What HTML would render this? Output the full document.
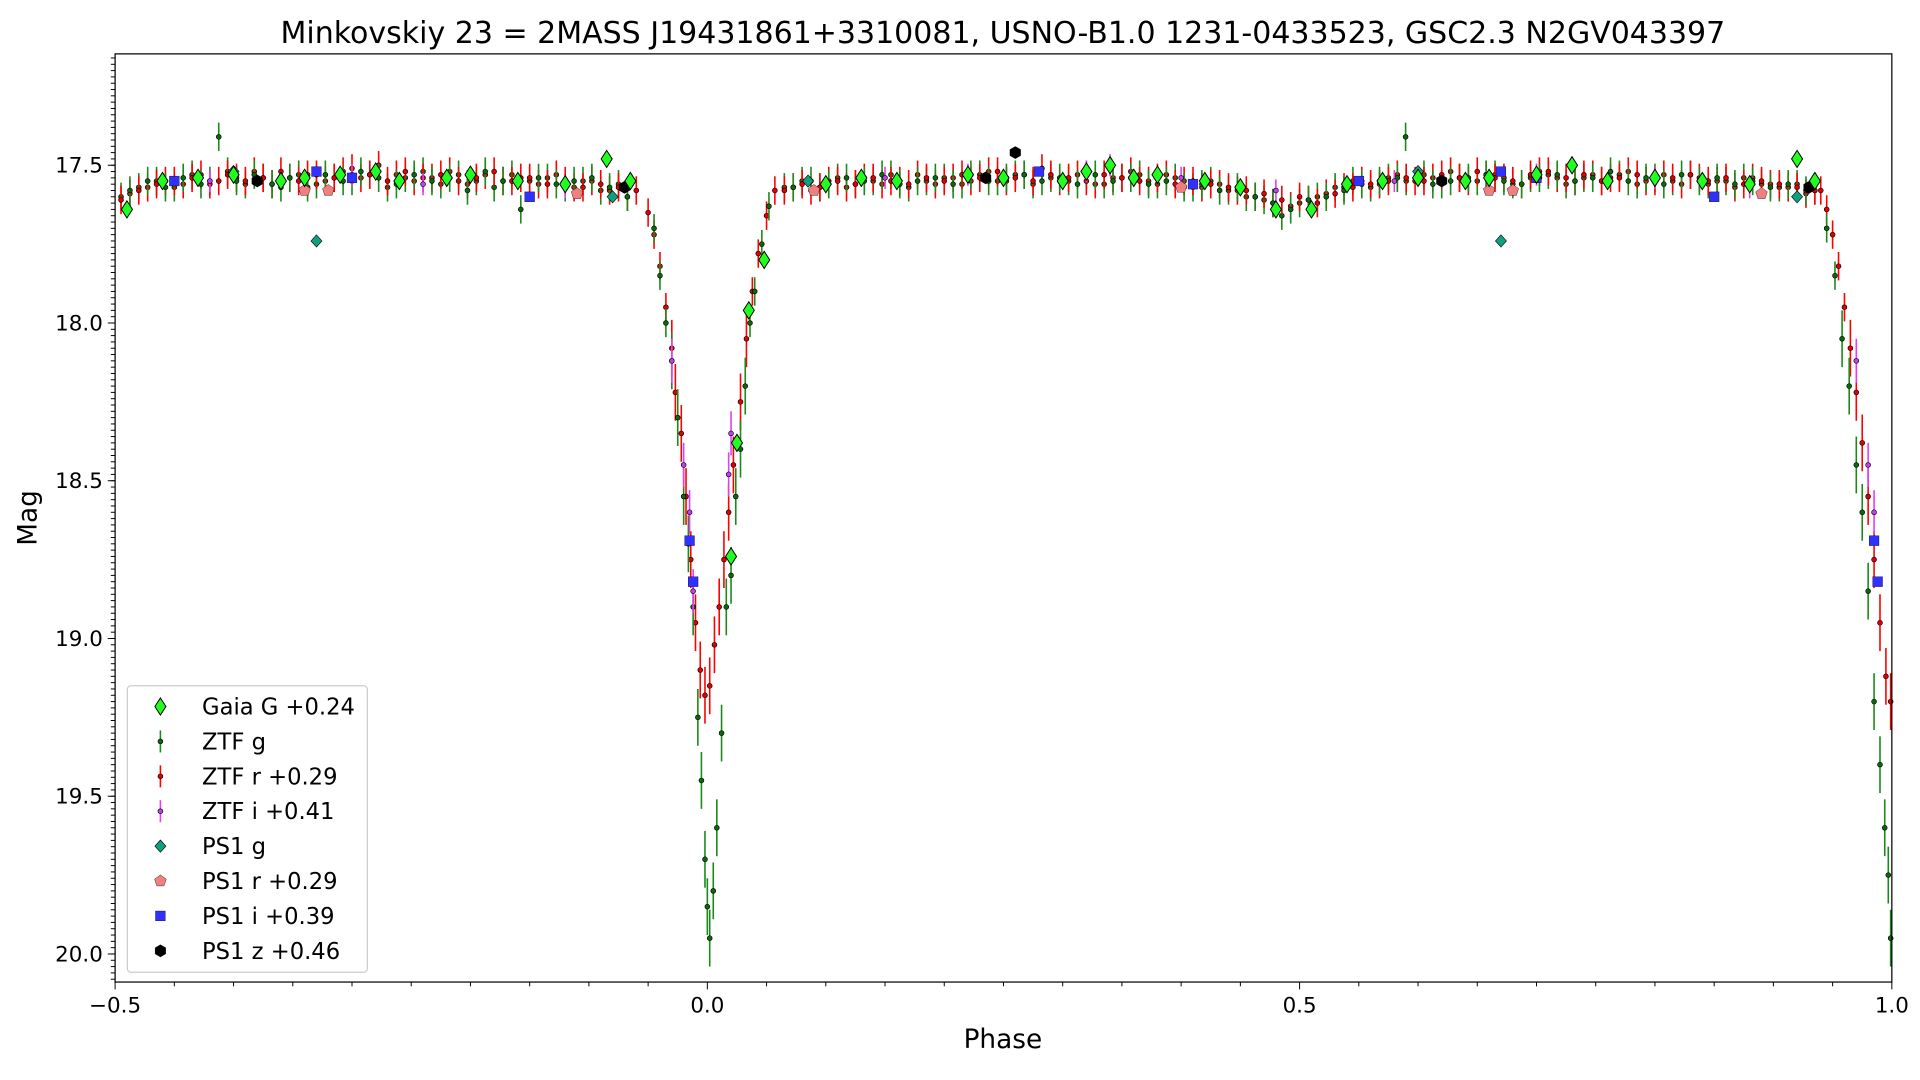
<!DOCTYPE html>
<html><head><meta charset="utf-8"><style>
html,body{margin:0;padding:0;background:#fff;}
svg{display:block;font-family:"DejaVu Sans","Liberation Sans",sans-serif;}
</style></head><body>
<svg id="chart" width="1920" height="1080" viewBox="0 0 1568 882" preserveAspectRatio="none" xmlns="http://www.w3.org/2000/svg">
<text x="819" y="35" font-size="24.5" text-anchor="middle">Minkovskiy 23 = 2MASS J19431861+3310081, USNO-B1.0 1231-0433523, GSC2.3 N2GV043397</text>
<g id="marks"></g>
<g id="axes"></g>
<text x="819" y="856" font-size="21.5" text-anchor="middle">Phase</text>
<text x="0" y="0" font-size="21.5" text-anchor="middle" transform="translate(30,423) rotate(-90)">Mag</text>
<g id="legend"></g>
</svg>
<script>
// ---- data ----
const xTicks=[-0.5,0.0,0.5,1.0];
const xTickLabels=["\u22120.5","0.0","0.5","1.0"];
const yTicks=[17.5,18.0,18.5,19.0,19.5,20.0];
const yTickLabels=["17.5","18.0","18.5","19.0","19.5","20.0"];

const rPhase=[-0.495,-0.48,-0.465,-0.45,-0.435,-0.42,-0.405,-0.39,-0.375,-0.36,-0.345,-0.33,-0.315,-0.3,-0.285,-0.27,-0.255,-0.24,-0.225,-0.21,-0.195,-0.18,-0.165,-0.15,-0.135,-0.12,-0.105,-0.09,-0.075,
-0.06,-0.05,-0.045,-0.04,-0.035,-0.03,-0.027,-0.022,-0.018,-0.014,-0.01,-0.006,-0.002,0.002,0.006,0.01,0.014,0.018,0.022,0.028,0.033,0.038,0.043,0.05,0.057,
0.065,0.08,0.095,0.11,0.125,0.14,0.155,0.17,0.185,0.2,0.215,0.23,0.245,0.26,0.275,0.29,0.305,0.32,0.335,0.35,0.365,0.38,0.395,0.41,0.425,0.44,0.455,0.47,0.485,0.5,0.515,0.53,0.545,0.56,0.575,0.59,0.605,0.62,0.635,0.65,0.665,0.68,0.695,0.71,0.725,0.74,0.755,0.77,0.785,0.8,0.815,0.83,0.845,0.86,0.875,0.89,0.905,0.92,0.935,
0.94,0.945,0.95,0.955,0.96,0.965,0.97,0.975,0.98,0.985,0.99,0.995,0.999];
const rMag=[17.61,17.58,17.56,17.55,17.54,17.56,17.53,17.55,17.54,17.52,17.55,17.53,17.54,17.51,17.53,17.55,17.52,17.54,17.53,17.55,17.54,17.52,17.55,17.54,17.56,17.55,17.57,17.56,17.57,
17.58,17.65,17.72,17.82,17.95,18.08,18.22,18.35,18.55,18.75,18.95,19.1,19.18,19.15,19.02,18.9,18.75,18.6,18.45,18.25,18.05,17.9,17.78,17.66,17.58,
17.58,17.56,17.57,17.55,17.56,17.54,17.55,17.56,17.54,17.55,17.53,17.54,17.52,17.54,17.55,17.53,17.54,17.55,17.53,17.54,17.55,17.54,17.56,17.55,17.56,17.57,17.58,17.59,17.61,17.6,17.62,17.59,17.57,17.56,17.55,17.54,17.55,17.53,17.54,17.52,17.54,17.55,17.53,17.52,17.54,17.53,17.55,17.54,17.53,17.55,17.54,17.53,17.55,17.54,17.56,17.55,17.56,17.57,17.58,
17.58,17.64,17.72,17.82,17.95,18.08,18.22,18.38,18.55,18.75,18.95,19.12,19.2];

const r2Phase=[-0.4875,-0.4725,-0.4575,-0.4425,-0.4275,-0.4125,-0.3975,-0.3825,-0.3675,-0.3525,-0.3375,-0.3225,-0.3075,-0.2925,-0.2775,-0.2625,-0.2475,-0.2325,-0.2175,-0.2025,-0.1875,-0.1725,-0.1575,-0.1425,-0.1275,-0.1125,-0.0975,-0.0825,-0.0675,
0.0725,0.0875,0.1025,0.1175,0.1325,0.1475,0.1625,0.1775,0.1925,0.2075,0.2225,0.2375,0.2525,0.2675,0.2825,0.2975,0.3125,0.3275,0.3425,0.3575,0.3725,0.3875,0.4025,0.4175,0.4325,0.4475,0.4625,0.4775,0.4925,0.5075,0.5225,0.5375,0.5525,0.5675,0.5825,0.5975,0.6125,0.6275,0.6425,0.6575,0.6725,0.6875,0.7025,0.7175,0.7325,0.7475,0.7625,0.7775,0.7925,0.8075,0.8225,0.8375,0.8525,0.8675,0.8825,0.8975,0.9125,0.9275];
const r2Mag=[17.59,17.57,17.55,17.56,17.53,17.55,17.54,17.52,17.56,17.54,17.53,17.55,17.52,17.54,17.5,17.53,17.55,17.54,17.52,17.56,17.53,17.55,17.54,17.56,17.53,17.57,17.55,17.58,17.6,
17.57,17.58,17.55,17.57,17.54,17.56,17.55,17.53,17.56,17.54,17.55,17.52,17.55,17.53,17.51,17.55,17.53,17.56,17.54,17.52,17.55,17.53,17.55,17.57,17.56,17.58,17.6,17.62,17.63,17.61,17.59,17.57,17.55,17.56,17.53,17.55,17.54,17.52,17.55,17.53,17.54,17.56,17.52,17.54,17.55,17.53,17.54,17.52,17.55,17.53,17.56,17.54,17.55,17.57,17.54,17.56,17.57,17.59];

const gPhase=[-0.4875,-0.4725,-0.4575,-0.4425,-0.4275,-0.4125,-0.3975,-0.3825,-0.3675,-0.3525,-0.3375,-0.3225,-0.3075,-0.2925,-0.2775,-0.2625,-0.2475,-0.2325,-0.2175,-0.2025,-0.1875,-0.1725,-0.1575,-0.1425,-0.1275,-0.1125,-0.0975,-0.0825,-0.0675,
-0.045,-0.04,-0.035,-0.03,-0.025,-0.02,-0.016,-0.012,-0.008,-0.005,-0.002,0.0,0.002,0.005,0.008,0.012,0.016,0.02,0.024,0.028,0.032,0.036,0.04,0.046,0.052,
0.0725,0.0875,0.1025,0.1175,0.1325,0.1475,0.1625,0.1775,0.1925,0.2075,0.2225,0.2375,0.2525,0.2675,0.2825,0.2975,0.3125,0.3275,0.3425,0.3575,0.3725,0.3875,0.4025,0.4175,0.4325,0.4475,0.4625,0.4775,0.4925,0.5075,0.5225,0.5375,0.5525,0.5675,0.5825,0.5895,0.6125,0.6275,0.6425,0.6575,0.6725,0.6875,0.7025,0.7175,0.7325,0.7475,0.7625,0.7775,0.7925,0.8075,0.8225,0.8375,0.8525,0.8675,0.8825,0.8975,0.9125,0.9275,
0.945,0.952,0.958,0.964,0.97,0.975,0.98,0.985,0.99,0.994,0.997,0.999];
const gMag=[17.58,17.55,17.57,17.54,17.56,17.41,17.55,17.53,17.56,17.54,17.57,17.53,17.55,17.52,17.54,17.56,17.53,17.55,17.54,17.58,17.52,17.55,17.64,17.54,17.56,17.55,17.54,17.57,17.6,
17.7,17.85,18.0,18.12,18.3,18.55,18.7,18.9,19.25,19.45,19.7,19.85,19.95,19.8,19.6,19.3,18.9,18.8,18.55,18.4,18.2,18.0,17.9,17.75,17.63,
17.57,17.55,17.56,17.54,17.55,17.53,17.56,17.55,17.54,17.56,17.53,17.55,17.54,17.53,17.55,17.54,17.56,17.53,17.55,17.54,17.56,17.55,17.57,17.56,17.58,17.57,17.6,17.62,17.64,17.61,17.6,17.58,17.56,17.55,17.54,17.41,17.56,17.55,17.54,17.53,17.55,17.56,17.54,17.53,17.55,17.54,17.52,17.55,17.54,17.56,17.53,17.55,17.54,17.56,17.55,17.57,17.56,17.58,
17.7,17.85,18.05,18.2,18.45,18.6,18.85,19.2,19.4,19.6,19.75,19.95];

const g2Phase=[-0.495,-0.48,-0.465,-0.45,-0.435,-0.42,-0.405,-0.39,-0.375,-0.36,-0.345,-0.33,-0.315,-0.3,-0.285,-0.27,-0.255,-0.24,-0.225,-0.21,-0.195,-0.18,-0.165,-0.15,-0.135,-0.12,-0.105,-0.09,-0.075,
0.065,0.08,0.095,0.11,0.125,0.14,0.155,0.17,0.185,0.2,0.215,0.23,0.245,0.26,0.275,0.29,0.305,0.32,0.335,0.35,0.365,0.38,0.395,0.41,0.425,0.44,0.455,0.47,0.485,0.5,0.515,0.53,0.545,0.56,0.575,0.59,0.605,0.62,0.635,0.65,0.665,0.68,0.695,0.71,0.725,0.74,0.755,0.77,0.785,0.8,0.815,0.83,0.845,0.86,0.875,0.89,0.905,0.92,0.935];
const g2Mag=[17.6,17.57,17.55,17.57,17.53,17.55,17.52,17.56,17.54,17.57,17.53,17.56,17.54,17.55,17.53,17.57,17.54,17.52,17.56,17.53,17.55,17.57,17.53,17.55,17.54,17.57,17.55,17.58,17.56,
17.57,17.55,17.57,17.54,17.56,17.55,17.53,17.57,17.55,17.54,17.56,17.53,17.55,17.53,17.56,17.54,17.55,17.53,17.56,17.54,17.53,17.56,17.54,17.57,17.55,17.58,17.6,17.61,17.66,17.62,17.6,17.57,17.55,17.57,17.54,17.55,17.53,17.56,17.54,17.55,17.53,17.56,17.54,17.53,17.56,17.54,17.55,17.53,17.56,17.54,17.55,17.53,17.56,17.55,17.54,17.56,17.57,17.56,17.58];

const iPhase=[-0.42,-0.3,-0.24,-0.12,-0.03,-0.02,-0.015,-0.012,0.018,0.02,0.15,0.22,0.32,0.34,0.4,0.48,0.58,0.7,0.8,0.88,0.97,0.98,0.985];
const iMag=[17.55,17.53,17.56,17.57,18.12,18.45,18.6,18.85,18.48,18.35,17.54,17.53,17.52,17.5,17.54,17.58,17.55,17.53,17.54,17.57,18.12,18.45,18.6];

const gaiaPhase=[-0.49,-0.46,-0.43,-0.4,-0.36,-0.34,-0.31,-0.28,-0.26,-0.22,-0.2,-0.16,-0.12,-0.085,-0.065,0.02,0.025,0.035,0.048,0.1,0.13,0.16,0.22,0.25,0.3,0.32,0.34,0.36,0.38,0.42,0.45,0.48,0.51,0.54,0.57,0.6,0.64,0.66,0.7,0.73,0.76,0.8,0.84,0.88,0.92,0.935];
const gaiaMag=[17.64,17.55,17.54,17.53,17.55,17.54,17.53,17.52,17.55,17.54,17.53,17.55,17.56,17.48,17.55,18.74,18.38,17.96,17.8,17.56,17.54,17.55,17.53,17.54,17.55,17.52,17.5,17.54,17.53,17.55,17.57,17.64,17.64,17.56,17.55,17.54,17.55,17.54,17.53,17.5,17.55,17.54,17.55,17.56,17.48,17.55];

const ps1gPhase=[-0.4,-0.33,-0.08,0.085,0.25,0.6,0.67,0.92];
const ps1gMag=[17.52,17.74,17.6,17.55,17.54,17.52,17.74,17.6];
const ps1rPhase=[-0.34,-0.32,-0.11,0.09,0.4,0.66,0.68,0.89];
const ps1rMag=[17.58,17.58,17.59,17.58,17.57,17.58,17.58,17.59];
const ps1iPhase=[-0.45,-0.33,-0.3,-0.15,-0.015,-0.012,0.28,0.41,0.55,0.67,0.7,0.85,0.985,0.988];
const ps1iMag=[17.55,17.52,17.54,17.6,18.69,18.82,17.52,17.56,17.55,17.52,17.54,17.6,18.69,18.82];
const ps1zPhase=[-0.38,-0.07,0.235,0.26,0.62,0.93];
const ps1zMag=[17.55,17.57,17.54,17.46,17.55,17.57];

const legendLabels=["Gaia G +0.24","ZTF g","ZTF r +0.29","ZTF i +0.41","PS1 g","PS1 r +0.29","PS1 i +0.39","PS1 z +0.46"];

// ---- axes ----
const L=94,R=1545,T=44,B=802;
const x=p=>L+(p+0.5)/1.5*(R-L);
const Y0=17.147,Y1=20.089;
const y=m=>T+(m-Y0)/(Y1-Y0)*(B-T);
const NS="http://www.w3.org/2000/svg";
function mk(tag,attrs,parent){const e=document.createElementNS(NS,tag);for(const k in attrs)e.setAttribute(k,attrs[k]);parent.appendChild(e);return e;}
const marks=document.getElementById('marks'),axes=document.getElementById('axes'),leg=document.getElementById('legend');

function shape(kind,cx,cy,fill,parent){
  let e;
  if(kind==='dot'){e=mk('circle',{cx:cx,cy:cy,r:2,fill:fill,stroke:'#000','stroke-width':0.5},parent);}
  else if(kind==='diamond'){e=mk('polygon',{points:`${cx},${cy-7} ${cx+4.5},${cy} ${cx},${cy+7} ${cx-4.5},${cy}`,fill:fill,stroke:'#000','stroke-width':0.8},parent);}
  else if(kind==='rdiamond'){e=mk('polygon',{points:`${cx},${cy-5} ${cx+4.5},${cy} ${cx},${cy+5} ${cx-4.5},${cy}`,fill:fill,stroke:'#000','stroke-width':0.5},parent);}
  else if(kind==='square'){e=mk('rect',{x:cx-4,y:cy-4,width:8,height:8,fill:fill,stroke:'#000','stroke-width':0.3},parent);}
  else if(kind==='pent'){let pts=[];for(let k=0;k<5;k++){const a=-Math.PI/2+k*2*Math.PI/5;pts.push((cx+5*Math.cos(a)).toFixed(1)+','+(cy+5*Math.sin(a)).toFixed(1));}e=mk('polygon',{points:pts.join(' '),fill:fill,stroke:'#000','stroke-width':0.3},parent);}
  else if(kind==='hex'){let pts=[];for(let k=0;k<6;k++){const a=-Math.PI/2+k*Math.PI/3;pts.push((cx+5*Math.cos(a)).toFixed(1)+','+(cy+5*Math.sin(a)).toFixed(1));}e=mk('polygon',{points:pts.join(' '),fill:fill,stroke:'#000','stroke-width':0.3},parent);}
  return e;
}
function series(ph,mg,kind,fill,barColor,err,name){
  const g=mk('g',{},marks);
  
  
  for(let i=0;i<ph.length;i++){
    const cx=x(ph[i]),cy=y(mg[i]);
    const e=err*(mg[i]>18?2:1);
    if(barColor){mk('line',{x1:cx,x2:cx,y1:y(mg[i]-e),y2:y(mg[i]+e),stroke:barColor,'stroke-width':1.3},g);}
    const m=shape(kind,cx,cy,fill,g);
    
    
  }
}
series(r2Phase,r2Mag,'dot','#e00000','#ff0000',0.045,'ztf-r-series-b');
series(g2Phase,g2Mag,'dot','#0a6a0a','#1a8a1a',0.045,'ztf-g-series-b');
series(rPhase,rMag,'dot','#e00000','#ff0000',0.045,'ztf-r-series');
series(gPhase,gMag,'dot','#0a6a0a','#1a8a1a',0.045,'ztf-g-series');
series(iPhase,iMag,'dot','#c040f0','#e040f0',0.035,'ztf-i-series');
series(ps1rPhase,ps1rMag,'pent','#f08080',null,0,'ps1-r-series');
series(ps1gPhase,ps1gMag,'rdiamond','#10a080',null,0,'ps1-g-series');
series(ps1iPhase,ps1iMag,'square','#3030ff',null,0,'ps1-i-series');
series(ps1zPhase,ps1zMag,'hex','#000',null,0,'ps1-z-series');
series(gaiaPhase,gaiaMag,'diamond','#20ff20',null,0,'gaia-g-series');

// frame
mk('rect',{x:L,y:T,width:R-L,height:B-T,fill:'none',stroke:'#000','stroke-width':1},axes);
for(let k=0;k<=30;k++){const p=-0.5+k*0.05;const xx=x(p);const major=(k%10===0);
  mk('line',{x1:xx,x2:xx,y1:B,y2:B+(major?6:3.5),stroke:'#000','stroke-width':0.8},axes);}
xTicks.forEach((p,i)=>{const t=mk('text',{x:x(p),y:B+25,'font-size':17.5,'text-anchor':'middle'},axes);t.textContent=xTickLabels[i];
  
  });
for(let k=0;k<=147;k++){const m=17.16+k*0.02;if(m>Y1)break;const yy=y(m);
  mk('line',{x1:L,x2:L-3.5,y1:yy,y2:yy,stroke:'#000','stroke-width':0.8},axes);}
yTicks.forEach((m,i)=>{const yy=y(m);mk('line',{x1:L,x2:L-6,y1:yy,y2:yy,stroke:'#000','stroke-width':0.8},axes);
  const t=mk('text',{x:L-10,y:yy+6,'font-size':17.5,'text-anchor':'end'},axes);t.textContent=yTickLabels[i];
  
  });

// legend
mk('rect',{x:104,y:560,width:196,height:234,rx:3,fill:'#fff','fill-opacity':0.85,stroke:'#ccc','stroke-width':1},leg);
const lk=[['diamond','#20ff20',null],['dot','#0a6a0a','#1a8a1a'],['dot','#e00000','#ff0000'],['dot','#c040f0','#e040f0'],['rdiamond','#10a080',null],['pent','#f08080',null],['square','#3030ff',null],['hex','#000',null]];
legendLabels.forEach((lab,i)=>{const cy=577+i*28.5;const g=mk('g',{},leg);
  
  
  if(lk[i][2])mk('line',{x1:131,x2:131,y1:cy-9,y2:cy+9,stroke:lk[i][2],'stroke-width':1.3},g);
  shape(lk[i][0],131,cy,lk[i][1],g);
  const t=mk('text',{x:165,y:cy+6.5,'font-size':18.5},g);t.textContent=lab;});
</script>
</body></html>
